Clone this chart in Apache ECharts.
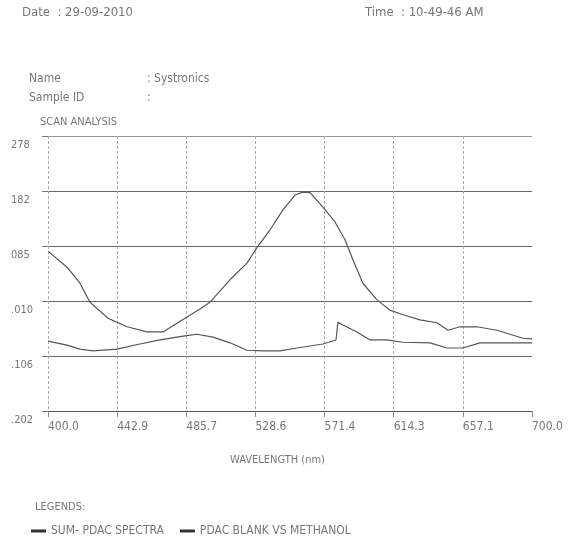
<!DOCTYPE html>
<html>
<head>
<meta charset="utf-8">
<script src="https://cdn.jsdelivr.net/npm/echarts@6/dist/echarts.min.js"></script>
<style>
html,body{margin:0;padding:0;background:#fff;}
#chart{width:569px;height:544px;}
</style>
</head>
<body>
<div id="chart"></div>
<script>
// Wavelength (nm) / absorbance
const sumWavelength = [400, 411.8, 419.8, 426, 437.2, 449, 461.4, 471.3, 484.9, 494.2, 500.4, 512.8, 523.3, 529.5, 537.6, 545.6, 553.1, 558, 562.4, 570.4, 577.9, 584.1, 589, 595.2, 603.9, 612, 620, 630.6, 641.1, 647.9, 655.4, 665.9, 678.3, 686.3, 694.4, 700];
const sumAbs = [0.077, 0.049, 0.021, -0.012, -0.040, -0.055, -0.064, -0.064, -0.040, -0.024, -0.012, 0.027, 0.056, 0.083, 0.114, 0.149, 0.175, 0.180, 0.179, 0.154, 0.128, 0.097, 0.062, 0.021, -0.008, -0.026, -0.034, -0.043, -0.048, -0.061, -0.055, -0.055, -0.061, -0.068, -0.075, -0.076];

const blankWavelength = [400, 411.8, 419.8, 427.9, 442.8, 457, 469.4, 484.9, 492.3, 502.3, 512.8, 523.3, 533.3, 543.8, 554.3, 570.4, 578.5, 579.7, 582.8, 591.5, 599.6, 610.1, 620, 636.8, 647.3, 657.2, 667.8, 682, 700];
const blankAbs = [-0.080, -0.087, -0.094, -0.097, -0.094, -0.085, -0.078, -0.071, -0.068, -0.073, -0.083, -0.096, -0.097, -0.097, -0.092, -0.085, -0.078, -0.047, -0.052, -0.064, -0.078, -0.078, -0.082, -0.083, -0.092, -0.092, -0.083, -0.083, -0.083];

const seriesNames = ['SUM- PDAC SPECTRA', 'PDAC BLANK VS METHANOL'];
const xTickLabels = ['400.0', '442.9', '485.7', '528.6', '571.4', '614.3', '657.1', '700.0'];
const yTickLabels = ['.202', '.106', '.010', '085', '182', '278'];

const FONT = "'Liberation Sans Narrow', 'DejaVu Sans Condensed', 'Liberation Sans', sans-serif";
const TXT = '#777';

function pairs(xs, ys) { return xs.map((x, i) => [x, ys[i]]); }
const xMin = 400, xMax = 700, xStep = (xMax - xMin) / 7;
const yMin = -0.202, yMax = 0.278, yStep = 0.096;

const chart = echarts.init(document.getElementById('chart'), null, {renderer: 'canvas'});

function txt(text, left, top, size) {
  return {text: text, left: left, top: top, padding: 0,
    textStyle: {fontFamily: FONT, fontSize: size || 12, fontWeight: 'normal', color: TXT}};
}

chart.setOption({
  animation: false,
  backgroundColor: '#fff',
  title: [
    txt('Date  : 29-09-2010', 22, 6, 13),
    txt('Time  : 10-49-46 AM', 365, 6, 13),
    txt('Name', 29, 73),
    txt(': Systronics', 147, 73),
    txt('Sample ID', 29, 92),
    txt(':', 147, 92),
    txt('SCAN ANALYSIS', 40, 117, 11),
    txt('WAVELENGTH (nm)', 230, 455, 11),
    txt('LEGENDS:', 35, 502, 11)
  ],
  legend: {
    left: 31, top: 525, padding: 0,
    icon: 'rect', itemWidth: 15, itemHeight: 3, itemGap: 16,
    data: seriesNames,
    textStyle: {fontFamily: FONT, fontSize: 12, color: TXT}
  },
  grid: {left: 48, right: 37, top: 136, bottom: 133, containLabel: false},
  xAxis: {
    type: 'value', min: xMin, max: xMax, interval: xStep,
    axisLine: {show: true, onZero: false, lineStyle: {color: '#555', width: 1}},
    axisTick: {show: true, length: 6, lineStyle: {color: '#888'}},
    axisLabel: {
      fontFamily: FONT, fontSize: 12, color: TXT, align: 'left', margin: 10,
      formatter: function (v) { const i = Math.round((v - xMin) / xStep); return xTickLabels[i] || ''; }
    },
    splitLine: {show: true, lineStyle: {
      color: ['#aaa', '#aaa', '#aaa', '#aaa', '#aaa', '#aaa', '#aaa', 'rgba(0,0,0,0)'],
      type: [3, 2], width: 1}}
  },
  yAxis: {
    type: 'value', min: yMin, max: yMax, interval: yStep,
    axisLine: {show: false, onZero: false},
    axisTick: {show: true, length: 6, lineStyle: {color: '#777'}},
    axisLabel: {
      fontFamily: FONT, fontSize: 11, color: TXT, align: 'left', margin: 37,
      verticalAlign: 'top', padding: [4, 0, 0, 0],
      formatter: function (v) { const i = Math.round((v - yMin) / yStep); return yTickLabels[i] || ''; }
    },
    splitLine: {show: true, lineStyle: {
      color: ['#555', '#666', '#666', '#666', '#666', '#999'], width: 1}}
  },
  series: [
    {name: seriesNames[0], type: 'line', data: pairs(sumWavelength, sumAbs), showSymbol: false, symbol: 'none',
     lineStyle: {color: '#555', width: 1.2}, itemStyle: {color: '#333'}},
    {name: seriesNames[1], type: 'line', data: pairs(blankWavelength, blankAbs), showSymbol: false, symbol: 'none',
     lineStyle: {color: '#555', width: 1.2}, itemStyle: {color: '#333'}}
  ]
});
</script>
</body>
</html>
